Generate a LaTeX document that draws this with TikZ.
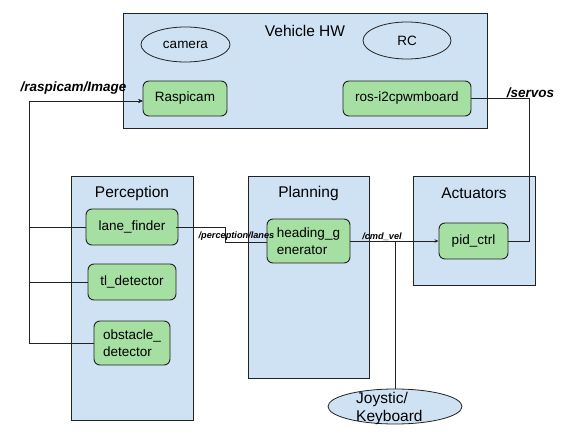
\documentclass[tikz,border=0pt]{standalone}
\usepackage{fontspec}
\setmainfont{Liberation Sans}
\usetikzlibrary{arrows.meta,shapes.geometric}
\definecolor{boxblue}{HTML}{CFE2F3}
\definecolor{nodegreen}{RGB}{166,223,162}
\definecolor{edge}{HTML}{222222}
\tikzset{
  grp/.style={draw=edge,line width=0.9pt,fill=boxblue,rectangle,inner sep=0pt},
  title/.style={font=\fontsize{15.5}{18}\selectfont,inner sep=0pt},
  proc/.style={draw=edge,line width=0.9pt,fill=nodegreen,rounded corners=6pt,inner sep=0pt,
     font=\fontsize{13.5}{16.5}\selectfont},
  hw/.style={draw=edge,line width=0.8pt,ellipse,inner sep=0pt,font=\fontsize{13.5}{17}\selectfont},
  conn/.style={draw=edge,line width=0.9pt},
  tip/.style={conn,-{Stealth[length=4pt,width=3.5pt]}},
  biglab/.style={font=\fontsize{13.5}{16}\selectfont\bfseries\itshape,inner sep=0pt},
  smalllab/.style={font=\fontsize{9.2}{11}\selectfont\bfseries\itshape,inner sep=0pt},
}
\begin{document}
\begin{tikzpicture}[x=1pt,y=-1pt]
\useasboundingbox[fill=white] (0,0) rectangle (567,438);
% group boxes
\node[grp,minimum width=364pt,minimum height=115pt] (vhw) at (305,70.5) {};
\node[title] (vhwt) at (305,31) {Vehicle HW};
\node[grp,minimum width=122pt,minimum height=244pt] (perc) at (132,298) {};
\node[title] (perct) at (132,193) {Perception};
\node[grp,minimum width=121pt,minimum height=202pt] (plan) at (308.5,277) {};
\node[title] (plant) at (308.5,193) {Planning};
\node[grp,minimum width=122pt,minimum height=109pt] (act) at (474,230.5) {};
\node[title] (actt) at (474,193) {Actuators};
% hardware
\node[hw,minimum width=89pt,minimum height=35pt] (cam) at (185.5,44.5) {camera};
\node[hw,minimum width=88pt,minimum height=37pt] (rc) at (407,40.5) {RC};
\node[proc,minimum width=84pt,minimum height=35pt] (rasp) at (185,98.5) {Raspicam};
\node[proc,minimum width=128pt,minimum height=35pt] (ros) at (407,98.5) {ros-i2cpwmboard};
% perception
\node[proc,minimum width=92pt,minimum height=36pt] (lane) at (132,227) {lane\_finder};
\node[proc,minimum width=88pt,minimum height=36pt] (tl) at (132,282) {tl\_detector};
\node[proc,minimum width=76pt,minimum height=44pt,align=left] (obs) at (132,343) {obstacle\_\\detector};
% planning
\node[proc,minimum width=83pt,minimum height=44pt,align=left] (head) at (308.5,241) {heading\_g\\enerator};
% actuators
\node[proc,minimum width=69pt,minimum height=36pt] (pid) at (473.5,241) {pid\_ctrl};
% joystick
\node[draw=edge,line width=0.8pt,fill=boxblue,ellipse,minimum width=134pt,minimum height=35pt] (joy) at (395,406.5) {};
\node[font=\fontsize{15.5}{18}\selectfont,align=left,inner sep=0pt,anchor=west] (joyt) at (356,408) {Joystic/\\Keyboard};
% helper coordinates
\coordinate (lx) at (29,0);
\coordinate (mx) at (227,0);
\coordinate (sx) at (529,0);
% connectors
\draw[tip] (lane.west) -- (lane.west -| lx) |- ([yshift=-2.5pt]rasp.west);
\draw[tip] (tl.west) -- (tl.west -| lx) |- ([yshift=-2.5pt]rasp.west);
\draw[tip] (obs.west) -- (obs.west -| lx) |- ([yshift=-2.5pt]rasp.west);
\draw[conn] ([xshift=-2pt]lane.east) -- ([xshift=-2pt]lane.east -| mx) |- ([yshift=-1pt]head.west);
\draw[tip] (head.east) -- (pid.west);
\draw[conn] (joy.north) -- (joy.north |- pid.west);
\draw[conn] (pid.east) -- (pid.east -| sx) |- (ros.east);
% labels
\node[biglab] (lraspi) at (73.5,88) {/raspicam/Image};
\node[biglab] (lservo) at (530.5,93) {/servos};
\node[smalllab] (llanes) at (236.5,236) {/perception/lanes};
\node[smalllab] (lcmd) at (382,237) {/cmd\_vel};
\end{tikzpicture}
\end{document}
